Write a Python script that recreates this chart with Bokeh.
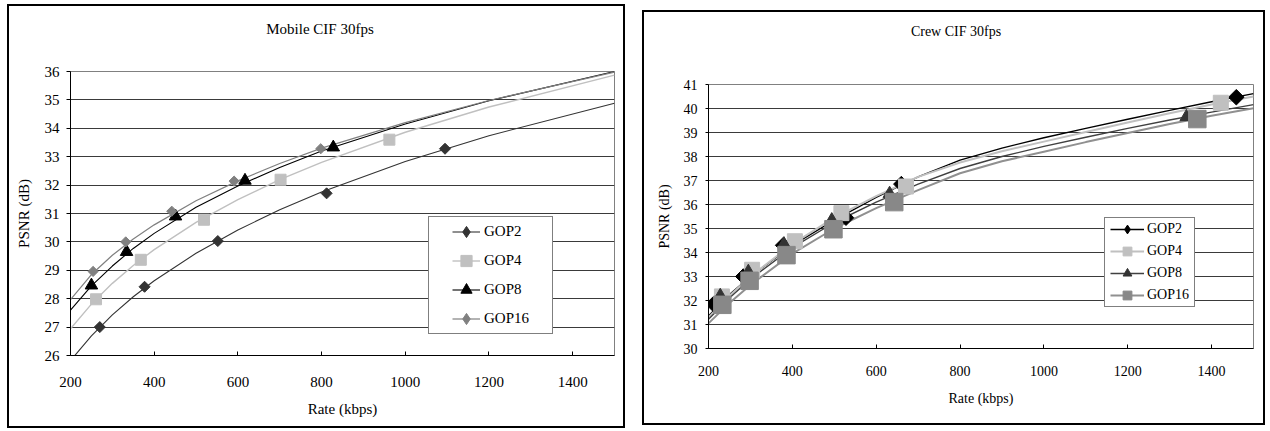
import math
from bokeh.plotting import figure
from bokeh.layouts import row, column
from bokeh.models import (Range1d, FixedTicker, Legend, LegendItem, Spacer, Div)
from bokeh.embed import file_html
from bokeh.resources import INLINE

FONT = "'Liberation Serif', 'Times New Roman', serif"

# ---------------- Mobile CIF 30fps (left) ----------------
m_title = "Mobile CIF 30fps"
m_xticks = [200, 400, 600, 800, 1000, 1200, 1400]
m_yticks = [26, 27, 28, 29, 30, 31, 32, 33, 34, 35, 36]

m_gop2_rate = [270, 377, 552, 812, 1095]
m_gop2_psnr = [27.0, 28.42, 30.03, 31.71, 33.28]
m_gop4_rate = [261, 368, 519, 702, 962]
m_gop4_psnr = [27.98, 29.37, 30.78, 32.19, 33.6]
m_gop8_rate = [250, 334, 451, 617, 828]
m_gop8_psnr = [28.47, 29.65, 30.9, 32.16, 33.33]
m_gop16_rate = [254, 332, 442, 591, 798]
m_gop16_psnr = [28.96, 30.0, 31.08, 32.14, 33.28]

# trend curves
m_curve_rate = [200, 250, 300, 350, 400, 500, 600, 700, 800, 1000, 1200, 1500]
m_gop2_curve = [25.82, 26.69, 27.43, 28.07, 28.63, 29.6, 30.42, 31.13, 31.76, 32.83, 33.74, 34.88]
m_gop4_curve = [26.94, 27.81, 28.54, 29.17, 29.73, 30.69, 31.49, 32.19, 32.8, 33.86, 34.75, 35.87]
m_gop8_curve = [27.6, 28.45, 29.15, 29.77, 30.3, 31.22, 31.97, 32.62, 33.2, 34.15, 34.97, 36.0]
m_gop16_curve = [27.97, 28.85, 29.53, 30.1, 30.6, 31.45, 32.15, 32.76, 33.3, 34.2, 34.98, 35.98]

# ---------------- Crew CIF 30fps (right) ----------------
c_title = "Crew CIF 30fps"
c_xticks = [200, 400, 600, 800, 1000, 1200, 1400]
c_yticks = [30, 31, 32, 33, 34, 35, 36, 37, 38, 39, 40, 41]

c_gop2_rate = [212, 283, 378, 528, 660, 1459]
c_gop2_psnr = [31.85, 33.0, 34.3, 35.45, 36.85, 40.47]
c_gop4_rate = [232, 304, 406, 517, 671, 1422]
c_gop4_psnr = [32.17, 33.28, 34.47, 35.64, 36.75, 40.24]
c_gop8_rate = [228, 295, 380, 494, 632, 1340]
c_gop8_psnr = [32.2, 33.2, 34.35, 35.35, 36.45, 39.65]
c_gop16_rate = [233, 298, 386, 498, 643, 1366]
c_gop16_psnr = [31.82, 32.82, 33.89, 34.97, 36.1, 39.56]

c_curve_rate = [200, 250, 300, 400, 500, 600, 700, 800, 900, 1000, 1100, 1200, 1300, 1400, 1500]
c_gop2_curve = [31.35, 32.25, 33.0, 34.3, 35.35, 36.3, 37.15, 37.85, 38.35, 38.78, 39.17, 39.55, 39.92, 40.28, 40.62]
c_gop4_curve = [31.3, 32.2, 33.0, 34.35, 35.45, 36.35, 37.15, 37.75, 38.22, 38.62, 39.02, 39.42, 39.8, 40.17, 40.5]
c_gop8_curve = [31.22, 32.1, 32.9, 34.2, 35.25, 36.1, 36.85, 37.5, 38.0, 38.42, 38.8, 39.17, 39.52, 39.85, 40.16]
c_gop16_curve = [31.05, 31.9, 32.65, 33.95, 35.0, 35.85, 36.6, 37.3, 37.8, 38.2, 38.6, 38.98, 39.35, 39.7, 40.01]

labels = ["GOP2", "GOP4", "GOP8", "GOP16"]

DIAMOND = math.pi / 4
OUTLINE = {"outline": "2px solid black", "outline-offset": "-2px"}


def title_div(text, total_w, pad_left, pad_top, height, fs):
    html = ('<div style="display:block; box-sizing:content-box; width:%dpx; '
            'padding-left:%dpx; padding-top:%dpx; margin:0; text-align:center; '
            'font-family:%s; font-size:%s; line-height:normal; color:#000000; '
            'white-space:nowrap;">%s</div>'
            % (total_w - pad_left, pad_left, pad_top,
               FONT.replace("'", "&#39;"), fs, text))
    return Div(text=html, width=total_w, height=height, margin=0)


def make_panel(cfg):
    p = figure(frame_width=cfg["fw"], frame_height=cfg["fh"],
               min_border_left=cfg["bl"], min_border_right=cfg["br"],
               min_border_top=cfg["bt"], min_border_bottom=cfg["bb"],
               x_range=Range1d(200, 1500), y_range=Range1d(*cfg["yr"]),
               output_backend="svg", toolbar_location=None)
    p.background_fill_color = "white"
    p.border_fill_color = "white"
    p.border_fill_alpha = 0
    p.outline_line_color = "#808080"
    p.outline_line_width = 1
    p.xgrid.visible = False
    p.ygrid.ticker = FixedTicker(ticks=cfg["yticks"])
    p.ygrid.grid_line_color = "#3a3a3a"
    p.ygrid.grid_line_width = 1

    fs = cfg["fs"]
    for ax in (p.xaxis[0], p.yaxis[0]):
        ax.axis_line_color = "black"
        ax.axis_line_width = 1
        ax.major_tick_line_color = "black"
        ax.minor_tick_line_color = None
        ax.major_label_text_font = FONT
        ax.major_label_text_font_size = fs
        ax.major_label_text_color = "black"
        ax.axis_label_text_font = FONT
        ax.axis_label_text_font_size = fs
        ax.axis_label_text_font_style = "normal"
        ax.axis_label_text_color = "black"

    xa = p.xaxis[0]
    xa.ticker = FixedTicker(ticks=cfg["xticks"])
    xa.axis_label = "Rate (kbps)"
    xa.major_tick_in = 4
    xa.major_tick_out = 0
    xa.major_label_standoff = cfg["x_std"]
    xa.axis_label_standoff = cfg["x_lstd"]

    ya = p.yaxis[0]
    ya.ticker = FixedTicker(ticks=cfg["yticks"])
    ya.axis_label = "PSNR (dB)"
    ya.major_tick_in = 0
    ya.major_tick_out = cfg["y_tick_out"]
    ya.major_label_standoff = cfg["y_std"]
    ya.axis_label_standoff = cfg["y_lstd"]

    # curves
    line_rs = []
    for curve, st in zip(cfg["curves"], cfg["styles"]):
        r = p.line(cfg["curve_rate"], curve, line_color=st["lc"], line_width=st["lw"])
        line_rs.append(r)
    # markers
    legend_marks = []
    for (rx, ry), st in zip(cfg["points"], cfg["styles"]):
        if st["marker"] == "diamond":
            p.scatter(rx, ry, marker="square", size=st["size"], angle=DIAMOND,
                      fill_color=st["mc"], line_color=st["mc"], line_width=1)
            # legend-only glyph (diamond shape for the legend swatch)
            r = p.scatter(rx, ry, marker="diamond", size=st["size"],
                          fill_color=st["mc"], line_color=st["mc"], visible=False)
        else:
            r = p.scatter(rx, ry, marker=st["marker"], size=st["size"],
                          fill_color=st["mc"], line_color=st["mc"], line_width=1)
        legend_marks.append(r)

    items = [LegendItem(label=lab, renderers=[lr, mr])
             for lab, lr, mr in zip(labels, line_rs, legend_marks)]
    lg = cfg["legend"]
    leg = Legend(items=items, location=lg["loc"])
    leg.border_line_color = "black"
    leg.border_line_width = 1
    leg.background_fill_color = "white"
    leg.background_fill_alpha = 1
    leg.label_text_font = FONT
    leg.label_text_font_size = lg["fs"]
    leg.label_text_color = "black"
    leg.glyph_width = lg["gw"]
    leg.glyph_height = lg["gh"]
    leg.label_height = lg["gh"]
    leg.label_standoff = lg["std"]
    leg.spacing = 0
    leg.margin = 0
    try:
        leg.padding = {"x": lg["px"], "y": lg["py"]}
    except Exception:
        leg.padding = lg["py"]
    p.add_layout(leg)
    return p


left_cfg = dict(
    fw=544, fh=284, bl=63, br=11, bt=27, bb=73, yr=(26, 36),
    xticks=m_xticks, yticks=m_yticks, fs="15px",
    x_std=21, x_lstd=11, y_tick_out=4, y_std=7, y_lstd=10,
    curve_rate=m_curve_rate,
    curves=[m_gop2_curve, m_gop4_curve, m_gop8_curve, m_gop16_curve],
    points=[(m_gop2_rate, m_gop2_psnr), (m_gop4_rate, m_gop4_psnr),
            (m_gop8_rate, m_gop8_psnr), (m_gop16_rate, m_gop16_psnr)],
    styles=[
        dict(lc="#333333", lw=1.1, mc="#333333", marker="diamond", size=7.8),
        dict(lc="#c0c0c0", lw=1.4, mc="#c0c0c0", marker="square", size=11),
        dict(lc="black", lw=1.1, mc="black", marker="triangle", size=12.5),
        dict(lc="#808080", lw=1.2, mc="#808080", marker="diamond", size=7.2),
    ],
    legend=dict(loc=(358, 21), fs="15px", gw=28, gh=29, std=4, px=23, py=0),
)

right_cfg = dict(
    fw=545, fh=264, bl=66, br=12, bt=27, bb=73, yr=(30, 41),
    xticks=c_xticks, yticks=c_yticks, fs="14px",
    x_std=17, x_lstd=12, y_tick_out=3, y_std=8, y_lstd=9,
    curve_rate=c_curve_rate,
    curves=[c_gop2_curve, c_gop4_curve, c_gop8_curve, c_gop16_curve],
    points=[(c_gop2_rate, c_gop2_psnr), (c_gop4_rate, c_gop4_psnr),
            (c_gop8_rate, c_gop8_psnr), (c_gop16_rate, c_gop16_psnr)],
    styles=[
        dict(lc="black", lw=1.4, mc="black", marker="diamond", size=11),
        dict(lc="#c0c0c0", lw=2, mc="#c0c0c0", marker="square", size=15),
        dict(lc="#404040", lw=1.4, mc="#333333", marker="triangle", size=13),
        dict(lc="#909090", lw=2, mc="#888888", marker="square", size=17.5),
    ],
    legend=dict(loc=(396, 41), fs="14px", gw=34, gh=22, std=3, px=5, py=0),
)

p1 = make_panel(left_cfg)
p2 = make_panel(right_cfg)

div_left = title_div(m_title, 618, 8, 17, 40, "15px")
div_right = title_div(c_title, 623, 5, 14, 47, "14px")

box_left = column(div_left, p1, styles=OUTLINE)
box_right = column(div_right, p2, Spacer(width=10, height=4), styles=OUTLINE)

layout = row(
    Spacer(width=7, height=10),
    column(Spacer(width=10, height=4), box_left),
    Spacer(width=17, height=10),
    column(Spacer(width=10, height=10), box_right),
)
open("out.html", "w").write(file_html(layout, INLINE))
